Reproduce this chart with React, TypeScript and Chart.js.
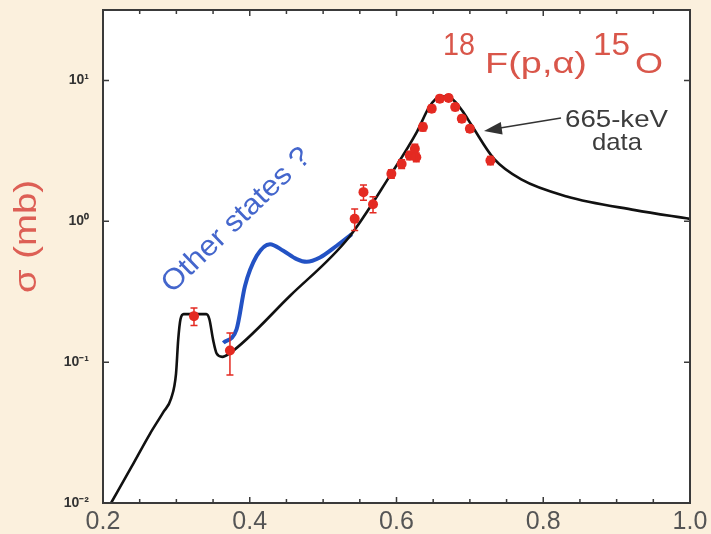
import React, { useEffect, useRef } from "react";
import { Chart, registerables } from "chart.js";

Chart.register(...registerables);

// ---- data ----
const modelX = [0.211, 0.239, 0.264, 0.282, 0.293, 0.2995, 0.3025, 0.3056, 0.31, 0.3408, 0.345, 0.35, 0.355, 0.3625, 0.372, 0.455, 0.535, 0.591, 0.628, 0.644, 0.653, 0.662, 0.674, 0.69, 0.702, 0.733, 0.77, 0.832, 0.925, 1.0];
const modelY = [0.01, 0.0181, 0.031, 0.044, 0.0555, 0.0826, 0.1445, 0.2016, 0.219, 0.219, 0.2016, 0.1445, 0.1148, 0.109, 0.1148, 0.296, 0.767, 2.1, 4.33, 6.4, 7.36, 7.7, 7.5, 6.05, 4.84, 2.77, 1.98, 1.5, 1.2, 1.04];

const otherX = [0.364, 0.382, 0.3935, 0.4095, 0.4276, 0.4457, 0.464, 0.4776, 0.4957, 0.5185, 0.539];
const otherY = [0.137, 0.171, 0.347, 0.568, 0.688, 0.617, 0.538, 0.515, 0.553, 0.67, 0.811];

const dataX = [0.324, 0.373, 0.543, 0.555, 0.568, 0.593, 0.607, 0.618, 0.625, 0.627, 0.636, 0.648, 0.659, 0.671, 0.68, 0.689, 0.7, 0.728];
const dataY = [0.212, 0.121, 1.04, 1.61, 1.32, 2.17, 2.55, 2.93, 3.27, 2.85, 4.67, 6.3, 7.4, 7.5, 6.47, 5.34, 4.54, 2.7];
const dataErr = [0.03, 0.04, 0.18, 0.2, 0.17, 0.15, 0.18, 0.2, 0.25, 0.2, 0.3, 0.35, 0.4, 0.4, 0.35, 0.3, 0.25, 0.18];

const yTickValues = [0.01, 0.1, 1, 10];
const yTickLabels = ["10\u207B\u00B2", "10\u207B\u00B9", "10\u2070", "10\u00B9"];
const xMajorStep = 0.2;

const FONT = "'Liberation Sans', Arial, Helvetica, sans-serif";

function drawFit(ctx: CanvasRenderingContext2D, text: string, x: number, y: number, w: number, size: number, color: string) {
  ctx.save();
  ctx.font = `${size}px ${FONT}`;
  ctx.textAlign = "left";
  ctx.textBaseline = "alphabetic";
  const m = ctx.measureText(text).width;
  ctx.translate(x, y);
  ctx.scale(w / m, 1);
  ctx.fillStyle = color;
  ctx.fillText(text, 0, 0);
  ctx.restore();
}

const decorPlugin = {
  id: "decor",
  beforeDraw(chart: any) {
    const { ctx, chartArea: a } = chart;
    ctx.save();
    ctx.fillStyle = "#fbf0dd";
    ctx.fillRect(0, 0, chart.width, chart.height);
    ctx.fillStyle = "#ffffff";
    ctx.fillRect(a.left, a.top, a.right - a.left, a.bottom - a.top);
    ctx.restore();
  },
  afterDatasetsDraw(chart: any) {
    const { ctx } = chart;
    const xs = chart.scales.x;
    const ys = chart.scales.y;
    ctx.save();
    ctx.strokeStyle = "#e42a22";
    ctx.lineWidth = 1.5;
    for (let i = 0; i < dataX.length; i++) {
      const px = xs.getPixelForValue(dataX[i]);
      const p1 = ys.getPixelForValue(dataY[i] + dataErr[i]);
      const p2 = ys.getPixelForValue(Math.max(dataY[i] - dataErr[i], 0.0001));
      ctx.beginPath();
      ctx.moveTo(px, p1);
      ctx.lineTo(px, p2);
      ctx.moveTo(px - 3.5, p1);
      ctx.lineTo(px + 3.5, p1);
      ctx.moveTo(px - 3.5, p2);
      ctx.lineTo(px + 3.5, p2);
      ctx.stroke();
    }
    ctx.restore();
  },
  afterDraw(chart: any) {
    const { ctx, chartArea: a } = chart;
    const xs = chart.scales.x;
    const ys = chart.scales.y;
    ctx.save();
    // frame
    ctx.strokeStyle = "#3a3a3a";
    ctx.lineWidth = 2;
    ctx.strokeRect(a.left, a.top, a.right - a.left, a.bottom - a.top);
    // inner ticks
    ctx.lineWidth = 1.5;
    ctx.beginPath();
    xs.ticks.forEach((t: any) => {
      const v = t.value;
      const r = v / xMajorStep;
      const major = Math.abs(r - Math.round(r)) < 1e-6;
      const len = major ? 6 : 4;
      const px = xs.getPixelForValue(v);
      ctx.moveTo(px, a.bottom);
      ctx.lineTo(px, a.bottom - len);
      ctx.moveTo(px, a.top);
      ctx.lineTo(px, a.top + len);
    });
    ys.ticks.forEach((t: any) => {
      const py = ys.getPixelForValue(t.value);
      ctx.moveTo(a.left, py);
      ctx.lineTo(a.left + 6, py);
      ctx.moveTo(a.right, py);
      ctx.lineTo(a.right - 6, py);
    });
    ctx.stroke();

    // y title
    ctx.save();
    ctx.translate(36, 293);
    ctx.rotate(-Math.PI / 2);
    drawFit(ctx, "\u03C3 (mb)", 0, 0, 113, 31, "#dd5f55");
    ctx.restore();

    // reaction title
    const red = "#d9564a";
    drawFit(ctx, "18", 443, 55, 32, 31, red);
    drawFit(ctx, "F(p,\u03B1)", 485, 73, 102, 30, red);
    drawFit(ctx, "15", 593, 55, 37, 31, red);
    drawFit(ctx, "O", 635, 73, 28, 30, red);

    // 665-keV data
    drawFit(ctx, "665-keV", 565, 127, 103, 24, "#3c3c3c");
    drawFit(ctx, "data", 592, 150, 50, 24, "#3c3c3c");
    // arrow
    ctx.strokeStyle = "#333";
    ctx.fillStyle = "#333";
    ctx.lineWidth = 1.6;
    ctx.beginPath();
    ctx.moveTo(561, 118);
    ctx.lineTo(500, 128);
    ctx.stroke();
    ctx.beginPath();
    ctx.moveTo(484, 131);
    ctx.lineTo(502.6, 134.5);
    ctx.lineTo(500.8, 122);
    ctx.closePath();
    ctx.fill();

    // Other states?
    ctx.save();
    ctx.translate(172, 294);
    ctx.rotate((-44 * Math.PI) / 180);
    drawFit(ctx, "Other states ?", 0, 0, 195, 29, "#4466cc");
    ctx.restore();

    ctx.restore();
  },
};

export default function App() {
  const ref = useRef<HTMLCanvasElement | null>(null);
  useEffect(() => {
    document.body.style.margin = "0";
    const canvas = ref.current;
    if (!canvas) return;
    const chart = new Chart(canvas, {
      type: "scatter",
      data: {
        datasets: [
          {
            label: "data",
            data: dataX.map((x, i) => ({ x, y: dataY[i] })),
            pointRadius: 5,
            pointBackgroundColor: "#e42a22",
            pointBorderWidth: 0,
            showLine: false,
          } as any,
          {
            label: "model",
            data: modelX.map((x, i) => ({ x, y: modelY[i] })),
            showLine: true,
            borderColor: "#111111",
            borderWidth: 2.6,
            pointRadius: 0,
            cubicInterpolationMode: "monotone",
          },
          {
            label: "other",
            data: otherX.map((x, i) => ({ x, y: otherY[i] })),
            showLine: true,
            borderColor: "#2352c4",
            borderWidth: 4,
            pointRadius: 0,
            cubicInterpolationMode: "monotone",
          },
        ],
      },
      options: {
        animation: false,
        responsive: false,
        layout: { padding: { top: 10, right: 21, left: 0, bottom: 0 } },
        plugins: { legend: { display: false }, tooltip: { enabled: false } },
        scales: {
          x: {
            type: "linear",
            min: 0.2,
            max: 1.0,
            grid: { display: false, drawTicks: false },
            border: { display: false },
            afterFit: (s: any) => {
              s.height = 31;
              s.paddingLeft = 0;
              s.paddingRight = 0;
              s.paddingTop = 0;
              s.paddingBottom = 0;
            },
            ticks: {
              stepSize: 0.05,
              autoSkip: false,
              maxRotation: 0,
              padding: 4,
              color: "#555",
              font: { size: 25, family: FONT },
              callback: (v: any) => {
                const r = Number(v) / xMajorStep;
                return Math.abs(r - Math.round(r)) < 1e-6 ? Number(v).toFixed(1) : "";
              },
            },
          },
          y: {
            type: "logarithmic",
            min: 0.01,
            max: 31.6,
            grid: { display: false, drawTicks: false },
            border: { display: false },
            afterFit: (s: any) => {
              s.width = 103;
              s.paddingLeft = 0;
              s.paddingRight = 0;
              s.paddingTop = 0;
              s.paddingBottom = 0;
            },
            afterBuildTicks: (s: any) => {
              s.ticks = yTickValues.map((v) => ({ value: v }));
            },
            ticks: {
              padding: 14,
              color: "#333",
              font: { size: 14, family: FONT, weight: "bold" },
              callback: (v: any) => {
                const idx = yTickValues.findIndex((t) => Math.abs(t - Number(v)) < 1e-9 * Math.max(1, t));
                return idx >= 0 ? yTickLabels[idx] : "";
              },
            },
          },
        },
      },
      plugins: [decorPlugin],
    } as any);
    return () => chart.destroy();
  }, []);
  return <canvas ref={ref} width={711} height={534} style={{ display: "block" }} />;
}
